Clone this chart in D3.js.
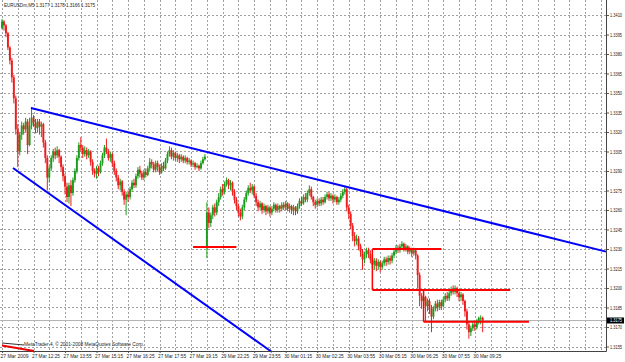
<!DOCTYPE html>
<html>
<head>
<meta charset="utf-8">
<script src="https://cdn.jsdelivr.net/npm/d3@7/dist/d3.min.js"></script>
<style>
  body { margin: 0; background: #ffffff; }
  svg { display: block; }
  text { font-family: "Liberation Sans", Arial, sans-serif; fill: #222; }
</style>
</head>
<body>
<div id="main"></div>
<script>
const width = 625;
const height = 362;

const symbol = "EURUSDm,M5";

// prices in pips above 1.3000, one entry per 5 minute bar
const opens = [
  400, 405, 402, 396, 385, 375, 362, 346, 322, 305, 318, 325, 322, 328, 310, 325, 331, 327, 323, 328,
  324, 326, 312, 300, 285, 292, 300, 305, 302, 306, 301, 293, 286, 278, 270, 279, 273, 283, 290, 300,
  310, 308, 303, 306, 302, 305, 297, 290, 288, 292, 289, 296, 302, 308, 305, 300, 303, 296, 290, 285,
  279, 282, 274, 268, 272, 270, 276, 281, 279, 286, 291, 288, 285, 289, 287, 292, 297, 295, 291, 296,
  293, 289, 294, 292, 298, 303, 306, 301, 304, 300, 302, 299, 301, 298, 300, 297, 298, 295, 296, 293,
  294, 292, 296, 299, 232, 258, 250, 256, 262, 258, 266, 270, 276, 274, 280, 283, 279, 281, 274, 268,
  263, 258, 255, 262, 268, 273, 277, 275, 278, 271, 266, 262, 265, 260, 263, 259, 262, 258, 261, 264,
  260, 263, 261, 264, 262, 265, 261, 263, 260, 262, 259, 263, 267, 265, 270, 268, 273, 276, 270, 266,
  264, 267, 265, 268, 266, 270, 272, 269, 271, 268, 270, 266, 268, 271, 274, 276, 262, 257, 248, 240,
  236, 238, 232, 228, 222, 226, 229, 226, 222, 218, 221, 217, 220, 216, 219, 222, 220, 223, 221, 225,
  228, 231, 229, 232, 234, 230, 232, 228, 230, 227, 229, 225, 210, 194, 190, 193, 186, 190, 185, 178,
  184, 188, 185, 189, 186, 191, 194, 192, 196, 199, 197, 200, 196, 193, 195, 190, 182, 172, 166, 169,
  172, 170, 174, 177, 177
];
const highs = [
  407, 406, 403, 397, 386, 377, 364, 348, 326, 320, 328, 327, 331, 330, 331, 339, 333, 330, 330, 330,
  328, 327, 314, 302, 294, 302, 307, 308, 309, 307, 302, 295, 288, 281, 281, 283, 285, 292, 302, 312,
  316, 310, 309, 308, 307, 306, 299, 292, 294, 294, 298, 304, 310, 315, 307, 305, 304, 298, 292, 287,
  284, 283, 276, 274, 275, 278, 283, 284, 288, 293, 294, 290, 291, 292, 294, 300, 299, 297, 298, 298,
  295, 296, 297, 300, 305, 309, 308, 306, 305, 304, 303, 303, 302, 302, 301, 300, 299, 298, 297, 296,
  295, 298, 301, 303, 266, 262, 258, 264, 265, 268, 273, 278, 280, 282, 285, 284, 283, 282, 276, 270,
  265, 261, 264, 270, 275, 279, 281, 280, 279, 273, 268, 267, 266, 265, 264, 264, 263, 263, 266, 265,
  265, 264, 266, 266, 267, 266, 265, 264, 264, 263, 265, 269, 270, 272, 273, 275, 279, 278, 271, 268,
  269, 269, 270, 270, 272, 274, 274, 273, 272, 272, 271, 270, 273, 276, 278, 277, 264, 259, 250, 243,
  241, 240, 234, 230, 228, 231, 231, 229, 225, 223, 223, 222, 221, 221, 224, 224, 225, 225, 227, 230,
  233, 233, 234, 236, 235, 234, 233, 232, 231, 231, 230, 226, 212, 196, 196, 194, 192, 192, 187, 186,
  190, 191, 191, 191, 193, 196, 197, 198, 201, 202, 202, 201, 198, 197, 196, 191, 184, 174, 171, 174,
  175, 176, 178, 179, 178
];
const lows = [
  399, 398, 393, 383, 372, 358, 342, 318, 293, 302, 314, 318, 320, 303, 309, 322, 324, 319, 320, 318,
  316, 308, 296, 275, 281, 290, 297, 299, 300, 296, 290, 282, 272, 266, 265, 263, 271, 281, 288, 298,
  305, 300, 301, 299, 300, 294, 287, 285, 284, 286, 288, 294, 300, 303, 298, 297, 293, 287, 282, 276,
  275, 271, 264, 256, 266, 268, 274, 277, 277, 284, 285, 283, 283, 285, 286, 290, 292, 289, 289, 290,
  287, 288, 290, 291, 296, 301, 299, 298, 298, 297, 296, 297, 296, 296, 295, 295, 293, 293, 291, 292,
  290, 291, 295, 298, 223, 246, 247, 253, 255, 256, 263, 268, 271, 272, 278, 276, 275, 271, 265, 260,
  255, 252, 253, 260, 266, 271, 273, 272, 269, 263, 259, 260, 257, 258, 256, 257, 255, 256, 259, 258,
  258, 258, 259, 260, 260, 259, 258, 257, 256, 256, 257, 261, 263, 264, 266, 266, 271, 268, 263, 261,
  262, 263, 263, 264, 265, 268, 267, 267, 265, 266, 264, 264, 266, 269, 272, 259, 253, 245, 236, 232,
  233, 229, 224, 214, 219, 223, 223, 219, 215, 214, 213, 214, 212, 214, 217, 217, 218, 218, 219, 223,
  226, 227, 227, 230, 228, 228, 226, 226, 224, 225, 222, 200, 186, 184, 186, 174, 182, 180, 166, 176,
  182, 182, 183, 183, 185, 189, 190, 190, 194, 195, 195, 193, 190, 190, 187, 178, 168, 161, 163, 167,
  167, 168, 172, 172, 166
];
const closes = [
  405, 402, 396, 385, 375, 362, 346, 322, 305, 318, 325, 322, 328, 310, 325, 331, 327, 323, 328, 324,
  326, 312, 300, 285, 292, 300, 305, 302, 306, 301, 293, 286, 278, 270, 279, 273, 283, 290, 300, 310,
  308, 303, 306, 302, 305, 297, 290, 288, 292, 289, 296, 302, 308, 305, 300, 303, 296, 290, 285, 279,
  282, 274, 268, 272, 270, 276, 281, 279, 286, 291, 288, 285, 289, 287, 292, 297, 295, 291, 296, 293,
  289, 294, 292, 298, 303, 306, 301, 304, 300, 302, 299, 301, 298, 300, 297, 298, 295, 296, 293, 294,
  292, 296, 299, 301, 258, 250, 256, 262, 258, 266, 270, 276, 274, 280, 283, 279, 281, 274, 268, 263,
  258, 255, 262, 268, 273, 277, 275, 278, 271, 266, 262, 265, 260, 263, 259, 262, 258, 261, 264, 260,
  263, 261, 264, 262, 265, 261, 263, 260, 262, 259, 263, 267, 265, 270, 268, 273, 276, 270, 266, 264,
  267, 265, 268, 266, 270, 272, 269, 271, 268, 270, 266, 268, 271, 274, 276, 262, 257, 248, 240, 236,
  238, 232, 228, 222, 226, 229, 226, 222, 218, 221, 217, 220, 216, 219, 222, 220, 223, 221, 225, 228,
  231, 229, 232, 234, 230, 232, 228, 230, 227, 229, 225, 210, 194, 190, 193, 186, 190, 185, 178, 184,
  188, 185, 189, 186, 191, 194, 192, 196, 199, 197, 200, 196, 193, 195, 190, 182, 172, 166, 169, 172,
  170, 174, 177, 177, 175
];

const priceTicks = [
  1.3410, 1.3395, 1.3380, 1.3365, 1.3350, 1.3335, 1.3320, 1.3305, 1.3290,
  1.3275, 1.3260, 1.3245, 1.3230, 1.3215, 1.3200, 1.3185, 1.3170, 1.3155
];

const timeLabels = [
  "27 Mar 2009", "27 Mar 12:25", "27 Mar 13:55", "27 Mar 15:15", "27 Mar 16:25", "27 Mar 17:55",
  "27 Mar 19:15", "29 Mar 22:25", "29 Mar 23:55", "30 Mar 01:15", "30 Mar 02:25", "30 Mar 03:55",
  "30 Mar 05:15", "30 Mar 06:25", "30 Mar 07:55", "30 Mar 09:25"
];

// trend lines: [bar, price] -> [bar, price]
const trendLines = [
  [[14.7, 1.33385], [306.6, 1.3228]],
  [[5.6, 1.32923], [137, 1.31508]]
];

// red level lines drawn on the chart
const levelPrices = [1.32315, 1.3230, 1.31985, 1.3174];
const levelStarts = [97, 188, 188, 214];
const levelEnds = [119, 223, 258, 267.5];
const stepBars = [188, 214];
const stepFrom = [1.3230, 1.31985];
const stepTo = [1.31985, 1.3174];

const toPrice = (pips) => 1.3 + pips / 10000;
const fmt = d3.format(".4f");

const bars = closes.map((c, i) => ({
  i: i,
  o: toPrice(opens[i]),
  h: toPrice(highs[i]),
  l: toPrice(lows[i]),
  c: toPrice(c),
}));

const plotLeft = 0;
const plotRight = 606;
const plotBottom = 351;
const labelFont = "4.8px";

const x = d3.scaleLinear().domain([0, 306.6]).range([2, plotRight]);
const y = d3.scaleLinear().domain([1.3155, 1.341]).range([346.5, 15]);

const svg = d3.select("#main").append("svg").attr("width", width).attr("height", height);

svg.append("rect").attr("width", width).attr("height", height).attr("fill", "#ffffff");

// grid
const grid = svg.append("g");
grid
  .selectAll(".hgrid")
  .data(priceTicks)
  .enter()
  .append("line")
  .attr("x1", plotLeft)
  .attr("x2", plotRight)
  .attr("y1", (d) => Math.round(y(d)) + 0.5)
  .attr("y2", (d) => Math.round(y(d)) + 0.5)
  .attr("stroke", "#a0a0a0")
  .attr("stroke-dasharray", "2,2");

grid
  .selectAll(".vgrid")
  .data(d3.range(0, 307, 8))
  .enter()
  .append("line")
  .attr("x1", (d) => Math.round(x(d)) + 0.5)
  .attr("x2", (d) => Math.round(x(d)) + 0.5)
  .attr("y1", 0)
  .attr("y2", plotBottom)
  .attr("stroke", "#a0a0a0")
  .attr("stroke-dasharray", "2,2");

// current price line
const last = bars[bars.length - 1];
svg
  .append("line")
  .attr("x1", plotLeft)
  .attr("x2", plotRight)
  .attr("y1", y(last.c))
  .attr("y2", y(last.c))
  .attr("stroke", "#b4b4b4")
  .attr("stroke-width", 1);

// candles
const candles = svg.append("g");
candles
  .selectAll(".wick")
  .data(bars)
  .enter()
  .append("line")
  .attr("x1", (d) => x(d.i))
  .attr("x2", (d) => x(d.i))
  .attr("y1", (d) => y(d.h))
  .attr("y2", (d) => y(d.l))
  .attr("stroke", (d) => (d.c >= d.o ? "#1c9c1c" : "#ee1c1c"))
  .attr("stroke-width", 1);

candles
  .selectAll(".body")
  .data(bars)
  .enter()
  .append("rect")
  .attr("x", (d) => x(d.i) - 0.95)
  .attr("width", 1.9)
  .attr("y", (d) => y(Math.max(d.o, d.c)))
  .attr("height", (d) => Math.max(1, Math.abs(y(d.o) - y(d.c))))
  .attr("fill", (d) => (d.c >= d.o ? "#1c9c1c" : "#ee1c1c"));

// drawn objects
svg
  .selectAll(".trend")
  .data(trendLines)
  .enter()
  .append("line")
  .attr("x1", (d) => x(d[0][0]))
  .attr("y1", (d) => y(d[0][1]))
  .attr("x2", (d) => x(d[1][0]))
  .attr("y2", (d) => y(d[1][1]))
  .attr("stroke", "#0000ff")
  .attr("stroke-width", 2);

svg
  .selectAll(".level")
  .data(levelPrices)
  .enter()
  .append("line")
  .attr("x1", (d, i) => x(levelStarts[i]))
  .attr("x2", (d, i) => x(levelEnds[i]))
  .attr("y1", (d) => y(d))
  .attr("y2", (d) => y(d))
  .attr("stroke", "#ff0000")
  .attr("stroke-width", 2);

svg
  .selectAll(".step")
  .data(stepBars)
  .enter()
  .append("line")
  .attr("x1", (d) => x(d))
  .attr("x2", (d) => x(d))
  .attr("y1", (d, i) => y(stepFrom[i]))
  .attr("y2", (d, i) => y(stepTo[i]))
  .attr("stroke", "#ff0000")
  .attr("stroke-width", 1.5);

// price scale
const yAxis = svg
  .append("g")
  .attr("transform", `translate(${plotRight},0)`)
  .call(d3.axisRight(y).tickValues(priceTicks).tickSize(3).tickFormat(fmt));
yAxis.select(".domain").remove();
yAxis.selectAll("line").attr("stroke", "#555");
yAxis
  .selectAll("text")
  .attr("x", 4)
  .attr("textLength", 12)
  .attr("lengthAdjust", "spacingAndGlyphs")
  .style("font-size", labelFont)
  .style("font-family", "'Liberation Sans', Arial, sans-serif")
  .attr("fill", "#222");

// time scale
const labelBars = timeLabels.map((t, i) => i * 16);
const xAxis = svg
  .append("g")
  .attr("transform", `translate(0,${plotBottom})`)
  .call(
    d3
      .axisBottom(x)
      .tickValues(labelBars)
      .tickSize(2)
      .tickFormat((d, i) => timeLabels[i])
  );
xAxis.select(".domain").remove();
xAxis.selectAll("line").attr("stroke", "#555");
xAxis
  .selectAll("text")
  .attr("text-anchor", "start")
  .attr("x", -2)
  .attr("y", 3)
  .attr("textLength", 28)
  .attr("lengthAdjust", "spacingAndGlyphs")
  .style("font-size", "5.5px")
  .style("font-family", "'Liberation Sans', Arial, sans-serif")
  .attr("fill", "#222");

// frame
svg
  .append("line")
  .attr("x1", plotRight + 0.5)
  .attr("x2", plotRight + 0.5)
  .attr("y1", 0)
  .attr("y2", plotBottom + 0.5)
  .attr("stroke", "#444");
svg
  .append("line")
  .attr("x1", 0)
  .attr("x2", plotRight + 0.5)
  .attr("y1", plotBottom + 0.5)
  .attr("y2", plotBottom + 0.5)
  .attr("stroke", "#444");

// last price marker
svg
  .append("rect")
  .attr("x", plotRight + 1)
  .attr("y", y(last.c) - 3)
  .attr("width", 17)
  .attr("height", 6)
  .attr("fill", "#000");
svg
  .append("text")
  .attr("x", plotRight + 4)
  .attr("y", y(last.c) + 0.5)
  .attr("dominant-baseline", "middle")
  .attr("textLength", 12)
  .attr("lengthAdjust", "spacingAndGlyphs")
  .style("font-size", labelFont)
  .style("fill", "#fff")
  .text(fmt(last.c));

// title
svg
  .append("text")
  .attr("x", 4)
  .attr("y", 7)
  .attr("textLength", 91)
  .attr("lengthAdjust", "spacingAndGlyphs")
  .style("font-size", "5.5px")
  .text(`${symbol}  ${fmt(last.o)} ${fmt(last.h)} ${fmt(last.l)} ${fmt(last.c)}`);

// copyright
svg
  .append("line")
  .attr("x1", 2)
  .attr("y1", 343)
  .attr("x2", 24)
  .attr("y2", 345)
  .attr("stroke", "#333")
  .attr("stroke-width", 1);
svg
  .append("line")
  .attr("x1", 2)
  .attr("y1", 345.5)
  .attr("x2", 34)
  .attr("y2", 351)
  .attr("stroke", "#ee0000")
  .attr("stroke-width", 2);
svg
  .append("text")
  .attr("x", 24)
  .attr("y", 346)
  .attr("textLength", 120)
  .attr("lengthAdjust", "spacingAndGlyphs")
  .style("font-size", "5.5px")
  .text("MetaTrader 4, © 2001-2008 MetaQuotes Software Corp.");
</script>
</body>
</html>
